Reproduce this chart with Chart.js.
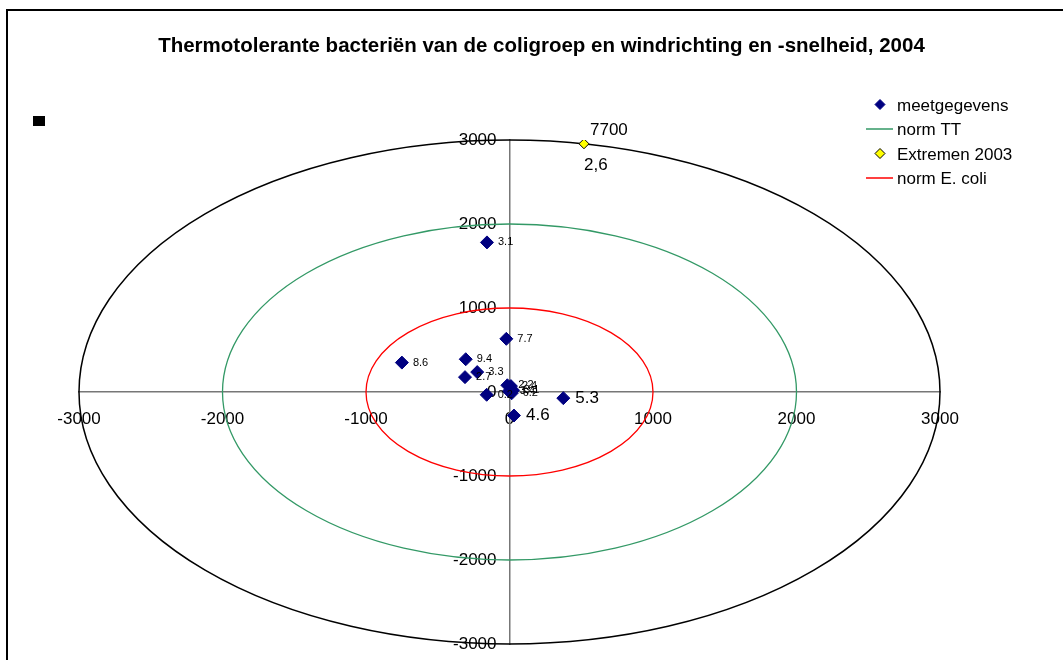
<!DOCTYPE html>
<html>
<head>
<meta charset="utf-8">
<title>Thermotolerante bacteriën van de coligroep en windrichting en -snelheid, 2004</title>
<script src="https://cdn.jsdelivr.net/npm/chart.js@4.4.1/dist/chart.umd.min.js"></script>
<style>
    html, body { margin: 0; padding: 0; background: #fff; overflow: hidden; }
    canvas { display: block; }
</style>
</head>
<body>
<canvas id="windChart" width="1063" height="660"></canvas>
<script>
(function () {
    'use strict';

    // meetgegevens: positie = windrichting/-snelheid, label = windsnelheid
    var meetX = [-157, -22, -750, -305, -310, -225, -159, 375, 31, -15, 10, 25, -5, 15];
    var meetY = [1781, 633, 350, 390, 177, 237, -33, -73, -280, 80, 70, 20, 10, -15];
    var meetLabels = ['3.1', '7.7', '8.6', '9.4', '2.7', '3.3', '0.2', '5.3', '4.6', '2.2', '2.4', '3.1', '3.4', '6.2'];

    var extremenX = [519];
    var extremenY = [2955];
    var extremenWaarde = ['7700'];
    var extremenWind = ['2,6'];

    var normLabels = ['norm TT', 'norm E. coli'];
    var normWaarden = [2000, 1000];
    var buitenRing = 3000;

    var axisTicks = [-3000, -2000, -1000, 0, 1000, 2000, 3000];

    var FONT = "'Liberation Sans', Arial, sans-serif";
    Chart.defaults.font.family = FONT;
    Chart.defaults.color = '#000';

    function toPoints(xs, ys) {
        return xs.map(function (x, i) { return { x: x, y: ys[i] }; });
    }

    var groteLabels = { '5.3': true, '4.6': true };

    // y-as door x = 0 schuiven (labels blijven links van de as)
    var centerAxisPlugin = {
        id: 'centerAxis',
        afterLayout: function (chart) {
            var px = chart.scales.x.getPixelForValue(0);
            var ys = chart.scales.y;
            ys.left = 0;
            ys.right = px;
            ys.width = px;
        }
    };

    var ringPlugin = {
        id: 'ringen',
        beforeDatasetsDraw: function (chart) {
            var xs = chart.scales.x, ys = chart.scales.y, ctx = chart.ctx;
            var cx = xs.getPixelForValue(0), cy = ys.getPixelForValue(0);
            var rings = [{ r: buitenRing, color: '#000000', w: 1.5 }];
            chart.data.datasets.forEach(function (ds) {
                if (ds.normWaarde) rings.push({ r: ds.normWaarde, color: ds.borderColor, w: ds.borderWidth });
            });
            rings.forEach(function (ring) {
                var rx = xs.getPixelForValue(ring.r) - cx;
                var ry = cy - ys.getPixelForValue(ring.r);
                ctx.save();
                ctx.beginPath();
                ctx.ellipse(cx, cy, rx, ry, 0, 0, Math.PI * 2);
                ctx.strokeStyle = ring.color;
                ctx.lineWidth = ring.w;
                ctx.stroke();
                ctx.restore();
            });
        }
    };

    var labelPlugin = {
        id: 'puntLabels',
        afterDatasetsDraw: function (chart) {
            var ctx = chart.ctx;
            ctx.save();
            ctx.fillStyle = '#000';
            ctx.textAlign = 'left';
            ctx.textBaseline = 'middle';
            chart.getDatasetMeta(0).data.forEach(function (pt, i) {
                var txt = meetLabels[i];
                ctx.font = (groteLabels[txt] ? 17 : 11) + 'px ' + FONT;
                ctx.fillText(txt, pt.x + (groteLabels[txt] ? 12 : 11), pt.y);
            });
            ctx.font = '17px ' + FONT;
            chart.getDatasetMeta(2).data.forEach(function (pt, i) {
                ctx.fillText(extremenWaarde[i], pt.x + 6, pt.y - 13.5);
                ctx.fillText(extremenWind[i], pt.x, pt.y + 21.5);
            });
            ctx.restore();
        }
    };

    function diamond(ctx, x, y, r, fill, stroke) {
        ctx.beginPath();
        ctx.moveTo(x - r, y);
        ctx.lineTo(x, y - r);
        ctx.lineTo(x + r, y);
        ctx.lineTo(x, y + r);
        ctx.closePath();
        ctx.fillStyle = fill;
        ctx.fill();
        ctx.lineWidth = 1;
        ctx.strokeStyle = stroke;
        ctx.stroke();
    }

    var decorPlugin = {
        id: 'decor',
        afterDraw: function (chart) {
            var ctx = chart.ctx;
            ctx.save();
            // kader
            ctx.fillStyle = '#000';
            ctx.fillRect(6, 9, 2, chart.height);
            ctx.fillRect(6, 9, chart.width, 2);
            // losse markering links
            ctx.fillRect(33, 116, 12, 10);

            // titel
            ctx.font = 'bold 20.5px ' + FONT;
            ctx.textAlign = 'center';
            ctx.textBaseline = 'alphabetic';
            ctx.fillText('Thermotolerante bacteriën van de coligroep en windrichting en -snelheid, 2004', 541.5, 51.5);

            // legenda
            ctx.font = '17px ' + FONT;
            ctx.textAlign = 'left';
            chart.data.datasets.forEach(function (ds, i) {
                var base = 110.5 + i * 24.5;
                var mid = base - 6;
                if (ds.type === 'line') {
                    ctx.beginPath();
                    ctx.moveTo(866, mid);
                    ctx.lineTo(893, mid);
                    ctx.strokeStyle = ds.borderColor;
                    ctx.lineWidth = 1.5;
                    ctx.stroke();
                } else {
                    diamond(ctx, 880, mid, 5, ds.backgroundColor, ds.borderColor);
                }
                ctx.fillStyle = '#000';
                ctx.fillText(ds.label, 897, base);
            });
            ctx.restore();
        }
    };

    function axisOpts(horizontal) {
        return {
            type: 'linear',
            min: -3000,
            max: 3000,
            position: horizontal ? { y: 0 } : 'left',
            afterBuildTicks: function (scale) {
                scale.ticks = axisTicks.map(function (v) { return { value: v }; });
            },
            afterFit: function (scale) {
                if (horizontal) { scale.height = 0; } else { scale.width = 0; }
                scale.paddingTop = 0;
                scale.paddingBottom = 0;
                scale.paddingLeft = 0;
                scale.paddingRight = 0;
            },
            grid: { display: false, drawTicks: false },
            border: { display: true, color: '#777777', width: 1.5 },
            ticks: {
                color: '#000',
                font: { size: 17 },
                padding: horizontal ? 17 : 13,
                autoSkip: false,
                maxRotation: 0,
                callback: function (v) { return String(v); }
            }
        };
    }

    new Chart(document.getElementById('windChart'), {
        type: 'scatter',
        data: {
            datasets: [
                {
                    label: 'meetgegevens',
                    data: toPoints(meetX, meetY),
                    pointStyle: 'rectRot',
                    pointRadius: 6.5,
                    backgroundColor: '#000080',
                    borderColor: '#000080',
                    borderWidth: 1
                },
                {
                    type: 'line',
                    label: normLabels[0],
                    data: [],
                    normWaarde: normWaarden[0],
                    borderColor: '#339966',
                    borderWidth: 1.3
                },
                {
                    label: 'Extremen 2003',
                    data: toPoints(extremenX, extremenY),
                    pointStyle: 'rectRot',
                    pointRadius: 5,
                    backgroundColor: '#ffff00',
                    borderColor: '#000000',
                    borderWidth: 1
                },
                {
                    type: 'line',
                    label: normLabels[1],
                    data: [],
                    normWaarde: normWaarden[1],
                    borderColor: '#ff0000',
                    borderWidth: 1.3
                }
            ]
        },
        options: {
            responsive: false,
            animation: false,
            events: [],
            layout: { padding: { left: 79, right: 123, top: 140, bottom: 16 } },
            plugins: {
                legend: { display: false },
                tooltip: { enabled: false },
                title: { display: false }
            },
            scales: {
                x: axisOpts(true),
                y: axisOpts(false)
            }
        },
        plugins: [centerAxisPlugin, ringPlugin, labelPlugin, decorPlugin]
    });
})();
</script>
</body>
</html>
